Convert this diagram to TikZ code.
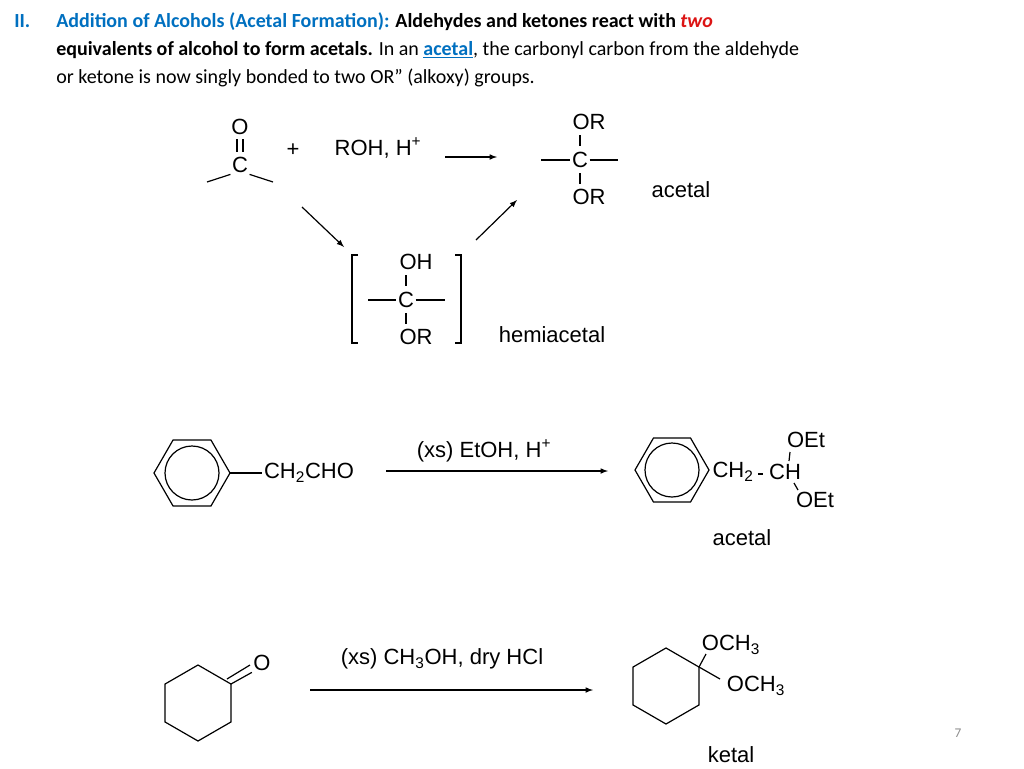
\documentclass[tikz,border=0pt]{standalone}
\usepackage{fontspec}
\setmainfont{Carlito}
\newfontfamily\chemfont{Liberation Sans}
\usepackage{xcolor}
\definecolor{slideblue}{RGB}{0,112,192}
\definecolor{slidered}{RGB}{220,20,20}
\definecolor{pagegray}{RGB}{140,140,140}
\newcommand{\chemsub}[1]{\textsubscript{#1}}
\newcommand{\chemsup}[1]{\textsuperscript{#1}}

\begin{document}
\begin{tikzpicture}[x=0.75pt,y=-0.75pt,
    chem/.style={font=\chemfont\fontsize{16.5}{18}\selectfont, inner sep=1pt},
    headline/.style={anchor=base west, inner sep=0pt, font=\fontsize{15}{18}\selectfont},
    bond/.style={line width=0.9pt},
    rxnarrow/.style={line width=0.9pt, -latex}]
    \useasboundingbox[fill=white] (0,0) rectangle (1024,768);

    % header text
    \node[headline, text=slideblue] (num) at (14,27) {\bfseries II.};
    \node[headline] (line1) at (56,27) {\textcolor{slideblue}{\bfseries Addition of Alcohols (Acetal Formation):} \textbf{Aldehydes and ketones react with} \textcolor{slidered}{\bfseries\itshape two}};
    \node[headline] (line2) at (56,55) {\textbf{equivalents of alcohol to form acetals.} In an \textcolor{slideblue}{\bfseries\underline{acetal}}, the carbonyl carbon from the aldehyde};
    \node[headline] (line3) at (56,83) {or ketone is now singly bonded to two OR" (alkoxy) groups.};

    % carbonyl compound
    \node[chem] (ko) at (240,127) {O};
    \node[chem] (kc) at (240,165) {C};
    \draw[bond] (237,139) -- (237,152) (243,139) -- (243,152);
    \draw[bond] (kc.south west) -- (207,182);
    \draw[bond] (kc.south east) -- (273,182);
    \node[chem] (plus) at (293,150) {+};
    \node[chem] (roh) at (378,148) {ROH, H\chemsup{+}};
    \coordinate (a1) at (445,157);
    \coordinate (a2) at (497,157);
    \draw[rxnarrow] (a1) -- (a2);

    % acetal
    \node[chem] (aor1) at (589,122) {OR};
    \node[chem] (ac) at (580,160) {C};
    \node[chem] (aor2) at (589,197) {OR};
    \draw[bond] (580,135) -- (580,146) (580,173) -- (580,184);
    \draw[bond] (541,160) -- (ac.west) (ac.east) -- (618,160);
    \node[chem] (acetal) at (681,190) {acetal};

    % hemiacetal
    \node[chem] (hoh) at (416,262) {OH};
    \node[chem] (hc) at (406,300) {C};
    \node[chem] (hor) at (416,337) {OR};
    \draw[bond] (406,275) -- (406,286) (406,313) -- (406,324);
    \draw[bond] (368,300) -- (hc.west) (hc.east) -- (445,300);
    \draw[bond] (358,255) -- (352,255) -- (352,343) -- (358,343);
    \draw[bond] (455,255) -- (461,255) -- (461,343) -- (455,343);
    \node[chem] (hemi) at (552,335) {hemiacetal};
    \coordinate (d1) at (302,207);
    \coordinate (d2) at (344,247);
    \coordinate (u1) at (476,240);
    \coordinate (u2) at (517,200);
    \draw[rxnarrow] (d1) -- (d2);
    \draw[rxnarrow] (u1) -- (u2);

    % phenylacetaldehyde
    \draw[bond] (192,473) +(0:38) -- +(60:38) -- +(120:38) -- +(180:38) -- +(240:38) -- +(300:38) -- cycle;
    \draw[bond] (192,473) circle (27);
    \node[chem] (pald) at (309,473) {CH\chemsub{2}CHO};
    \draw[bond] (230,473) -- (pald.west);
    \node[chem] (etoh) at (484,451) {(xs) EtOH, H\chemsup{+}};
    \coordinate (b1) at (386,471);
    \coordinate (b2) at (608,471);
    \draw[rxnarrow] (b1) -- (b2);

    % diethyl acetal
    \draw[bond] (672,470) +(0:37) -- +(60:37) -- +(120:37) -- +(180:37) -- +(240:37) -- +(300:37) -- cycle;
    \draw[bond] (672,470) circle (27);
    \node[chem] (ch2) at (733,472) {CH\chemsub{2}};
    \node[chem] (ch) at (785,472) {CH};
    \draw[bond] (ch2.east) ++(3,2) -- ++(5,0);
    \node[chem] (oet1) at (806,440) {OEt};
    \node[chem] (oet2) at (815,500) {OEt};
    \draw[bond] (790,452) -- (789,461);
    \draw[bond] (794,483) -- (798,490);
    \node[chem] (acetal2) at (742,538) {acetal};

    % cyclohexanone
    \draw[bond] (198,703) +(90:38) -- +(30:38) -- +(-30:38) -- +(-90:38) -- +(-150:38) -- +(150:38) -- cycle;
    \node[chem] (ketO) at (262,663) {O};
    \draw[bond] (231,684) -- (ketO.south west);
    \draw[bond] (227,679) -- (250,665);
    \node[chem] (meoh) at (442,659) {(xs) CH\chemsub{3}OH, dry HCl};
    \coordinate (c1) at (310,690);
    \coordinate (c2) at (593,690);
    \draw[rxnarrow] (c1) -- (c2);

    % ketal
    \draw[bond] (666,686) +(90:38) -- +(30:38) -- +(-30:38) -- +(-90:38) -- +(-150:38) -- +(150:38) -- cycle;
    \node[chem] (och1) at (731,645) {OCH\chemsub{3}};
    \node[chem] (och2) at (756,686) {OCH\chemsub{3}};
    \draw[bond] (699,667) -- (706,654);
    \draw[bond] (699,667) -- (720,679);
    \node[chem] (ketal) at (731,755) {ketal};

    \node[text=pagegray, font=\fontsize{10}{12}\selectfont] (page) at (958,733) {7};
\end{tikzpicture}
\end{document}
